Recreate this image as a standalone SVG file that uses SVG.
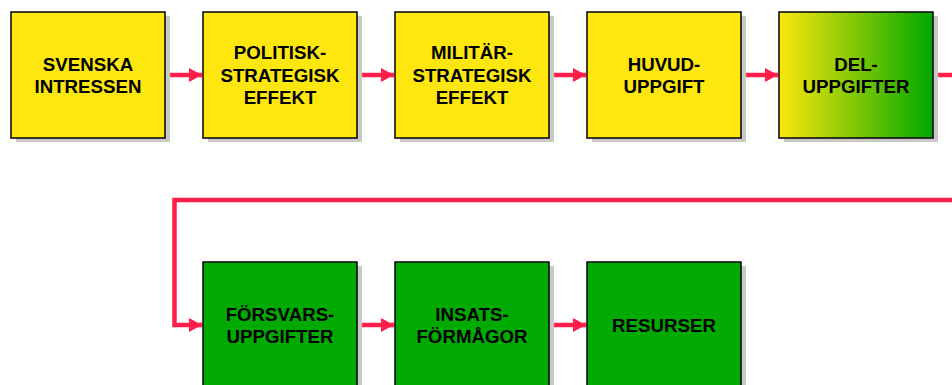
<svg xmlns="http://www.w3.org/2000/svg" width="952" height="385" viewBox="0 0 952 385">
<style>
.sh{fill:#c8c8c8}
.box{stroke:#000;stroke-width:1.5}
.y{fill:#fde70e}
.g{fill:#00aa00}
.t{font-family:"Liberation Sans",Arial,sans-serif;font-weight:bold;font-size:18.7px;fill:#000;text-anchor:middle}
.c{fill:none;stroke:#ff1f4a;stroke-width:4.5}
</style>
<defs>
<linearGradient id="yg" x1="0" y1="0" x2="1" y2="0">
<stop offset="0" stop-color="#fde70e"/>
<stop offset="1" stop-color="#00a800"/>
</linearGradient>
<marker id="ah" markerWidth="13" markerHeight="14" refX="13" refY="7" orient="auto" markerUnits="userSpaceOnUse">
<path d="M0,0 L13,7 L0,14 Z" fill="#ff1f4a"/>
</marker>
</defs>
<g id="connectors">
<line class="c" x1="165" y1="75" x2="202" y2="75" marker-end="url(#ah)"/>
<line class="c" x1="357" y1="75" x2="394" y2="75" marker-end="url(#ah)"/>
<line class="c" x1="549" y1="75" x2="586" y2="75" marker-end="url(#ah)"/>
<line class="c" x1="741" y1="75" x2="778" y2="75" marker-end="url(#ah)"/>
<line class="c" x1="933" y1="75" x2="952" y2="75"/>
<polyline class="c" points="952,200 174.5,200 174.5,325 202,325" marker-end="url(#ah)"/>
<line class="c" x1="357" y1="325" x2="394" y2="325" marker-end="url(#ah)"/>
<line class="c" x1="549" y1="325" x2="586" y2="325" marker-end="url(#ah)"/>
</g>
<g id="n1">
<rect class="sh" x="16" y="16" width="154" height="126"/>
<rect class="box y" x="11" y="12" width="154" height="126"/>
<text class="t" x="88" y="71">SVENSKA</text>
<text class="t" x="88" y="93">INTRESSEN</text>
</g>
<g id="n2">
<rect class="sh" x="208" y="16" width="154" height="126"/>
<rect class="box y" x="203" y="12" width="154" height="126"/>
<text class="t" x="280" y="58.5">POLITISK-</text>
<text class="t" x="280" y="81.5">STRATEGISK</text>
<text class="t" x="280" y="104">EFFEKT</text>
</g>
<g id="n3">
<rect class="sh" x="400" y="16" width="154" height="126"/>
<rect class="box y" x="395" y="12" width="154" height="126"/>
<text class="t" x="472" y="58.5">MILITÄR-</text>
<text class="t" x="472" y="81.5">STRATEGISK</text>
<text class="t" x="472" y="104">EFFEKT</text>
</g>
<g id="n4">
<rect class="sh" x="592" y="16" width="154" height="126"/>
<rect class="box y" x="587" y="12" width="154" height="126"/>
<text class="t" x="664" y="70.5">HUVUD-</text>
<text class="t" x="664" y="93">UPPGIFT</text>
</g>
<g id="n5">
<rect class="sh" x="784" y="16" width="154" height="126"/>
<rect class="box" fill="url(#yg)" x="779" y="12" width="154" height="126"/>
<text class="t" x="856" y="70.5">DEL-</text>
<text class="t" x="856" y="93">UPPGIFTER</text>
</g>
<g id="n6">
<rect class="sh" x="208" y="266" width="154" height="126"/>
<rect class="box g" x="203" y="262" width="154" height="126"/>
<text class="t" x="280" y="320.5">FÖRSVARS-</text>
<text class="t" x="280" y="343">UPPGIFTER</text>
</g>
<g id="n7">
<rect class="sh" x="400" y="266" width="154" height="126"/>
<rect class="box g" x="395" y="262" width="154" height="126"/>
<text class="t" x="472" y="320.5">INSATS-</text>
<text class="t" x="472" y="343">FÖRMÅGOR</text>
</g>
<g id="n8">
<rect class="sh" x="592" y="266" width="154" height="126"/>
<rect class="box g" x="587" y="262" width="154" height="126"/>
<text class="t" x="664" y="332">RESURSER</text>
</g>
</svg>
